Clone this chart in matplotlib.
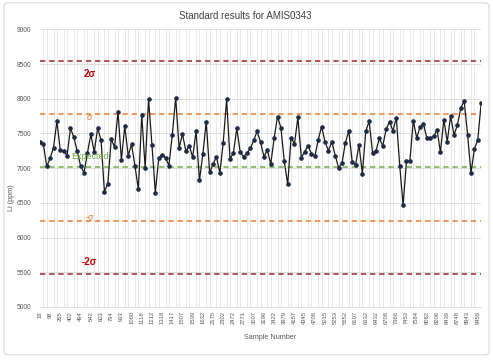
import matplotlib
matplotlib.use("Agg")
import matplotlib.pyplot as plt
from matplotlib.patches import FancyBboxPatch
import numpy as np

plt.rcParams['font.family'] = ['Liberation Sans', 'DejaVu Sans']

# Li results, one per sample, in run order
li_ppm = [
    7376, 7352, 7024, 7143, 7296, 7676, 7257, 7248, 7181, 7576,
    7443, 7243, 7029, 6934, 7220, 7486, 7234, 7576, 7405, 6662,
    6777, 7414, 7305, 7814, 7119, 7605, 7181, 7343, 7029, 6696,
    7767, 7005, 7990, 7338, 6648, 7143, 7196, 7148, 7038, 7481,
    8014, 7291, 7491, 7243, 7324, 7157, 7533, 6824, 7205, 7667,
    6939, 7053, 7167, 6929, 7367, 7990, 7134, 7215, 7572, 7234,
    7167, 7215, 7286, 7400, 7533, 7372, 7167, 7262, 7057, 7429,
    7743, 7581, 7096, 6767, 7438, 7352, 7733, 7153, 7234, 7324,
    7205, 7172, 7410, 7600, 7376, 7253, 7381, 7181, 7005, 7072,
    7367, 7538, 7091, 7043, 7338, 6919, 7533, 7676, 7224, 7248,
    7429, 7319, 7562, 7667, 7538, 7729, 7038, 6467, 7105, 7105,
    7686, 7434, 7595, 7633, 7434, 7434, 7457, 7553, 7229, 7700,
    7381, 7752, 7476, 7624, 7867, 7967, 7481, 6934, 7276, 7405,
    7943,
]

# sample numbers shown on the axis (every third sample)
sample_labels = [
    "18", "98", "265", "402", "494", "542", "603", "794", "933", "1060",
    "1118", "1212", "1318", "1417", "1507", "1539", "1632", "2175", "2302", "2472",
    "2771", "3007", "3196", "3422", "3979", "4157", "4345", "4708", "5015", "5253",
    "5552", "6107", "6332", "6432", "6708", "7366", "7453", "7584", "8082", "8206",
    "8439", "8748", "8943", "9459",
]

expected = 7010
sigma = 765

ref_names = ["2\u03c3", "\u03c3", "Expected", "-\u03c3", "-2\u03c3"]
ref_levels = [expected + 2 * sigma, expected + sigma, expected,
              expected - sigma, expected - 2 * sigma]
ref_colors = ["#A3262A", "#ED7D31", "#70AD47", "#ED7D31", "#A3262A"]
text_colors = ["#C00000", "#ED7D31", "#70AD47", "#ED7D31", "#C00000"]
text_levels = [8356, 7735, 7172, 6292, 5643]

fig = plt.figure(figsize=(4.93, 3.62), dpi=100)
fig.patches.append(FancyBboxPatch((0.008, 0.02), 0.984, 0.972,
                                  boxstyle="round,pad=0,rounding_size=0.01",
                                  transform=fig.transFigure, fill=False,
                                  edgecolor="#D9D9D9", linewidth=0.8))
ax = fig.add_axes([0.081, 0.152, 0.895, 0.767])

x = np.arange(len(li_ppm))

# grid: every category vertically, every 500 ppm horizontally
ax.set_xticks(x, minor=True)
ax.grid(True, which="minor", axis="x", color="#E4E4E4", linewidth=0.6)
ax.grid(True, which="major", axis="y", color="#D9D9D9", linewidth=0.6)
ax.set_axisbelow(True)

for lvl, col in zip(ref_levels, ref_colors):
    ax.axhline(lvl, color=col, linestyle=(0, (3.5, 2.5)), linewidth=1.1, zorder=2)

ax.plot(x, li_ppm, color="#1A1A1A", linewidth=0.9, marker="o", markersize=2.3,
        markerfacecolor="#1F2A44", markeredgecolor="#1F2A44", zorder=3)

for name, lvl, col in zip(ref_names, text_levels, text_colors):
    bold = "bold" if "2" in name else "normal"
    size = 7 if "2" in name else 6.5
    ax.text(14.7, lvl, name, color=col, fontsize=size, fontweight=bold,
            ha="center", va="center", zorder=4)

ax.set_xlim(0, len(li_ppm) - 1)
ax.set_ylim(5000, 9000)
ax.set_yticks(np.arange(5000, 9001, 500))
ax.set_xticks(x[::3])
ax.set_xticklabels(sample_labels, rotation=90, fontsize=4.2, color="#595959")
ax.tick_params(axis="y", labelsize=4.8, labelcolor="#595959", length=0, pad=6)
ax.tick_params(axis="x", which="both", length=0, pad=3)

for side in ["top", "right", "left"]:
    ax.spines[side].set_visible(False)
ax.spines["bottom"].set_color("#D9D9D9")
ax.spines["bottom"].set_linewidth(0.6)

fig.text(0.497, 0.957, "Standard results for AMIS0343", ha="center", va="center",
         fontsize=7, color="#404040")
fig.text(0.548, 0.069, "Sample Number", ha="center", va="center",
         fontsize=5.2, color="#595959")
fig.text(0.024, 0.455, "Li (ppm)", ha="center", va="center", rotation=90,
         fontsize=5.2, color="#595959")

fig.savefig("out.png", dpi=100)
